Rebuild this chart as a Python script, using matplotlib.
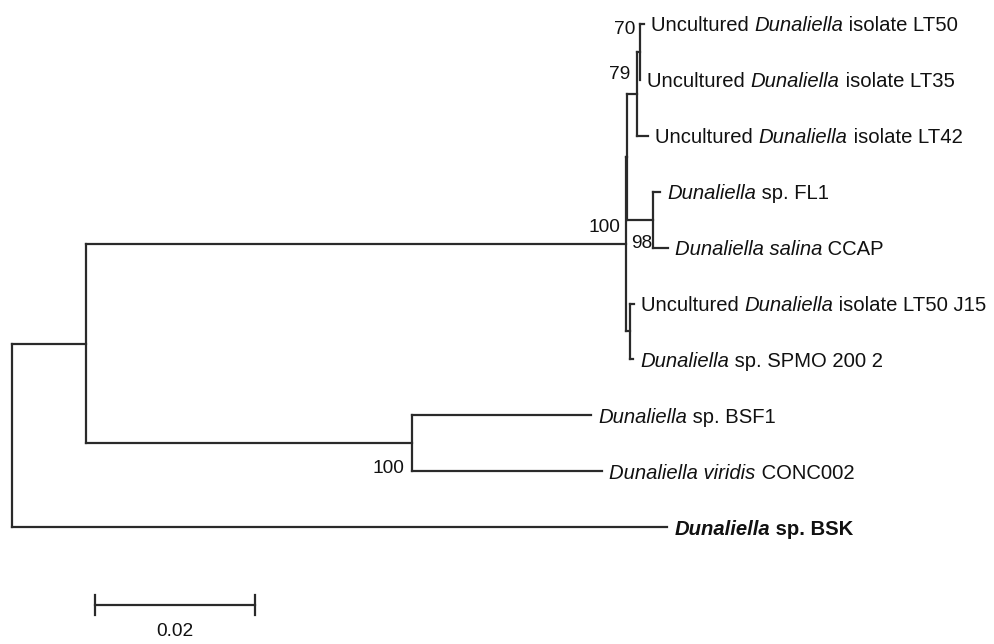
import matplotlib
matplotlib.use("Agg")
import matplotlib.pyplot as plt
from matplotlib import font_manager
from matplotlib.transforms import IdentityTransform

# Tree data: node, parent, branch length (substitutions/site)
node_names = ["root", "A", "BSK", "M", "B", "BSF1", "CONC002", "I", "JS",
              "N79", "N98", "N70", "LT42", "LT50", "LT35", "FL1", "CCAP",
              "J15", "SPMO"]
node_parents = [None, "root", "root", "A", "A", "B", "B", "M", "M",
                "I", "I", "N79", "N79", "N70", "N70", "N98", "N98",
                "JS", "JS"]
branch_lengths = [0.0, 0.00925, 0.0819, 0.0675, 0.04075, 0.0224, 0.0238,
                  0.0001, 0.0005, 0.0013, 0.0033, 0.0003, 0.0014, 0.0005,
                  0.0001, 0.0009, 0.0018, 0.0005, 0.0004]

# bootstrap support values
boot_nodes = ["N70", "N79", "M", "N98", "B"]
boot_values = [70, 79, 100, 98, 100]

# leaf labels: (text, italic) pieces
leaf_labels = {
    "LT50": [("Uncultured ", False), ("Dunaliella", True), (" isolate LT50", False)],
    "LT35": [("Uncultured ", False), ("Dunaliella", True), (" isolate LT35", False)],
    "LT42": [("Uncultured ", False), ("Dunaliella", True), (" isolate LT42", False)],
    "FL1": [("Dunaliella", True), (" sp. FL1", False)],
    "CCAP": [("Dunaliella salina", True), (" CCAP", False)],
    "J15": [("Uncultured ", False), ("Dunaliella", True), (" isolate LT50 J15", False)],
    "SPMO": [("Dunaliella", True), (" sp. SPMO 200 2", False)],
    "BSF1": [("Dunaliella", True), (" sp. BSF1", False)],
    "CONC002": [("Dunaliella viridis", True), (" CONC002", False)],
    "BSK": [("Dunaliella", True), (" sp. BSK", False)],
}
bold_leaves = ["BSK"]

scale_length = 0.02

# where the bootstrap numbers sit relative to their node (pixels)
boot_offsets = {"N70": (-4, -22), "N79": (-7, -19), "M": (-6, -17),
                "N98": (-1, 24), "B": (-8, 25)}

names = {f.name for f in font_manager.fontManager.ttflist}
if "Liberation Sans Narrow" in names:
    FAMILY, FS, FS_SMALL = "Liberation Sans Narrow", 17.3, 16.5
else:
    FAMILY, FS, FS_SMALL = "Liberation Sans", 14.6, 13.8
LINE_C = "#2a2a2a"
TEXT_C = "#111111"
LW = 1.6

# build tree structure
children = {n: [] for n in node_names}
blen = dict(zip(node_names, branch_lengths))
for n, p in zip(node_names, node_parents):
    if p is not None:
        children[p].append(n)

xpos, ypos = {}, {}
leaf_counter = [0]


def layout(node, x):
    xpos[node] = x
    if not children[node]:
        ypos[node] = leaf_counter[0]
        leaf_counter[0] += 1
    else:
        for c in children[node]:
            layout(c, x + blen[c])
        ys = [ypos[c] for c in children[node]]
        ypos[node] = (min(ys) + max(ys)) / 2


layout("root", 0.0)
n_leaves = leaf_counter[0]

fig = plt.figure(figsize=(9.94, 6.44), dpi=100)
ax = fig.add_axes([0, 0, 1, 1])
ax.set_xlim(-0.0015, 0.12275)
ax.set_ylim(11.09, -0.429)
ax.axis("off")

# branches
for n, p in zip(node_names, node_parents):
    if p is not None:
        ax.plot([xpos[p], xpos[n]], [ypos[n], ypos[n]], color=LINE_C,
                lw=LW, solid_capstyle="projecting")
    if children[n]:
        ys = [ypos[c] for c in children[n]]
        ax.plot([xpos[n], xpos[n]], [min(ys), max(ys)], color=LINE_C,
                lw=LW, solid_capstyle="projecting")

renderer = fig.canvas.get_renderer()

# leaf names, italic genus/species
for leaf, pieces in leaf_labels.items():
    px, py = ax.transData.transform((xpos[leaf], ypos[leaf]))
    px += 7
    weight = "bold" if leaf in bold_leaves else "normal"
    for txt, ital in pieces:
        t = ax.text(px, py, txt, transform=IdentityTransform(),
                    ha="left", va="center_baseline", fontsize=FS,
                    family=FAMILY, style="italic" if ital else "normal",
                    weight=weight, color=TEXT_C)
        px = t.get_window_extent(renderer).x1

for n, v in zip(boot_nodes, boot_values):
    dx, dy = boot_offsets[n]
    ax.annotate(str(v), (xpos[n], ypos[n]), xytext=(dx, -dy),
                textcoords="offset pixels", ha="right", va="center",
                fontsize=FS_SMALL, family=FAMILY, color=TEXT_C)

# scale bar
sb_x0 = 0.0104
sb_y = n_leaves + 0.39
ax.plot([sb_x0, sb_x0 + scale_length], [sb_y, sb_y], color=LINE_C, lw=LW)
for xe in (sb_x0, sb_x0 + scale_length):
    ax.plot([xe, xe], [sb_y - 0.18, sb_y + 0.18], color=LINE_C, lw=LW)
ax.annotate(f"{scale_length:.2f}", (sb_x0 + scale_length / 2, sb_y),
            xytext=(0, -27), textcoords="offset pixels", ha="center",
            va="center", fontsize=FS_SMALL, family=FAMILY, color=TEXT_C)

fig.savefig("out.png", dpi=100)
